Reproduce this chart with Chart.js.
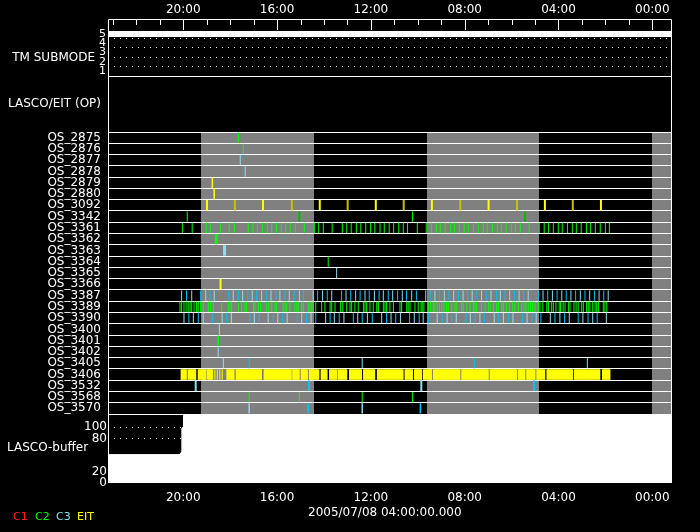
<!DOCTYPE html>
<html>
<head>
<meta charset="utf-8">
<script src="https://cdn.jsdelivr.net/npm/chart.js@4/dist/chart.umd.min.js"></script>
<style>
html,body{margin:0;padding:0;background:#000;width:700px;height:532px;overflow:hidden;}
canvas{position:absolute;left:0;}
</style>
</head>
<body>
<canvas id="tm" width="700" height="77" style="top:0px"></canvas>
<canvas id="os" width="700" height="339" style="top:76px"></canvas>
<canvas id="buf" width="700" height="119" style="top:413px"></canvas>
<script>
// ---------------- data (time in hours of day, axis runs backwards) ----------------
const hourTicks = [0, 4, 8, 12, 16, 20];
const submodeTicks = [1, 2, 3, 4, 5];
const submodeGrid = [1.5, 2.5, 3.5, 4.5];
const submodeTimes = [23.21, -0.84];
const submodeValues = [5, 5];

const rows = ['OS_2875','OS_2876','OS_2877','OS_2878','OS_2879','OS_2880','OS_3092','OS_3342',
  'OS_3361','OS_3362','OS_3363','OS_3364','OS_3365','OS_3366','OS_3387','OS_3389','OS_3390',
  'OS_3400','OS_3401','OS_3402','OS_3405','OS_3406','OS_3532','OS_3568','OS_3570'];

const grayBandStart = [19.25, 9.61, 0.0];
const grayBandEnd = [14.43, 4.84, -0.84];

const os2875_c2 = [17.65];
const os2876_c2 = [17.44];
const os2877_c3 = [17.57];
const os2878_c3 = [17.36];
const os2879_eit = [18.76];
const os2880_eit = [18.68];
const os3092_eit = [18.99, 16.60, 14.18, 11.79, 9.40, 6.98, 4.58, 2.19];
const os3092_eitDark = [17.80, 15.37, 12.99, 10.60, 8.19, 5.77, 3.39];
const os3342_c2 = [19.83, 10.23];
const os3342_c2Dark = [15.05, 5.42];
const os3361_c2 = [20.04, 19.62, 19.22, 19.02, 18.85, 18.42, 18.04, 17.82, 17.23, 17.03, 16.84, 16.63,
  16.42, 16.23, 16.03, 15.82, 15.63, 15.44, 15.22, 14.84, 14.41, 14.24, 14.03, 13.65, 13.22, 13.03,
  12.84, 12.62, 12.43, 12.22, 12.01, 11.83, 11.61, 11.43, 11.22, 11.03, 10.81, 10.62, 10.44, 10.02,
  9.64, 9.42, 9.21, 9.04, 8.83, 8.61, 8.44, 8.23, 8.02, 7.85, 7.63, 7.42, 7.21, 7.04, 6.82, 6.61,
  6.44, 6.23, 6.01, 5.84, 5.63, 5.25, 4.82, 4.61, 4.43, 4.22, 4.01, 3.84, 3.62, 3.41, 3.24, 3.03,
  2.81, 2.64, 2.43, 2.22, 2.00, 1.83];
const os3362_c2 = [18.59];
const os3363_c3 = [18.24];
const os3364_c2 = [13.82];
const os3365_c3 = [13.46];
const os3366_eit = [18.41];
const os3387_c3 = [20.07, 19.86, 19.64, 19.26, 19.04, 18.86, 18.68, 18.06, 17.87, 17.65, 17.47, 17.25,
  17.06, 16.87, 16.66, 16.44, 16.26, 16.05, 15.88, 15.66, 15.48, 15.27, 15.05, 14.88, 14.46, 14.27,
  14.06, 13.86, 13.67, 13.25, 13.06, 12.86, 12.65, 12.46, 12.25, 12.07, 11.85, 11.65, 11.47, 11.26,
  11.07, 10.86, 10.66, 10.48, 10.26, 10.06, 9.66, 9.47, 9.27, 9.07, 8.87, 8.67, 8.47, 8.27, 8.07,
  7.87, 7.68, 7.48, 7.28, 7.08, 6.88, 6.65, 6.48, 6.28, 6.08, 5.88, 5.68, 5.48, 5.29, 4.86, 4.66,
  4.46, 4.26, 4.06, 3.86, 3.67, 3.47, 3.27, 3.07, 2.87, 2.67, 2.47, 2.27, 2.07, 1.88];
const os3389_c2 = [20.14, 20.07, 19.97, 19.88, 19.79, 19.71, 19.64, 19.54, 19.43, 19.36, 19.26, 19.15,
  18.93, 18.83, 18.72, 18.36, 18.08, 18.01, 17.94, 17.65, 17.51, 17.37, 17.30, 17.01, 16.94, 16.80,
  16.70, 16.44, 16.35, 16.23, 16.09, 16.02, 15.74, 15.66, 15.59, 15.45, 15.24, 15.16, 15.10, 14.95,
  14.88, 14.67, 14.60, 14.52, 14.46, 14.35, 14.10, 13.96, 13.74, 13.67, 13.53, 13.29, 13.20, 13.03,
  12.89, 12.82, 12.68, 12.54, 12.32, 12.25, 12.18, 12.04, 11.90, 11.75, 11.68, 11.47, 11.40, 11.33,
  11.19, 11.04, 10.76, 10.69, 10.47, 10.41, 10.33, 10.12, 9.98, 9.86, 9.81, 9.74, 9.55, 9.45, 9.34,
  9.27, 9.17, 9.08, 8.98, 8.88, 8.77, 8.70, 8.55, 8.41, 8.34, 8.13, 8.06, 7.91, 7.77, 7.63, 7.56,
  7.49, 7.28, 7.13, 6.99, 6.92, 6.78, 6.64, 6.57, 6.42, 6.35, 6.21, 6.10, 5.95, 5.86, 5.71, 5.57,
  5.47, 5.39, 5.29, 5.19, 5.10, 5.00, 4.86, 4.79, 4.67, 4.50, 4.43, 4.29, 4.22, 4.11, 3.97, 3.91,
  3.80, 3.72, 3.58, 3.51, 3.34, 3.25, 3.16, 3.01, 2.94, 2.80, 2.73, 2.66, 2.54, 2.44, 2.37, 2.30,
  2.09, 2.02, 1.94];
const os3390_c3 = [19.97, 19.76, 19.57, 19.36, 19.15, 18.76, 18.34, 18.15, 17.95, 17.16, 16.97, 16.76,
  16.38, 16.16, 15.97, 15.76, 15.57, 15.14, 14.95, 14.74, 14.55, 14.35, 13.93, 13.74, 13.56, 13.35,
  13.15, 12.75, 12.56, 12.37, 12.15, 11.94, 11.54, 11.33, 11.14, 10.94, 10.74, 10.35, 10.15, 9.94,
  9.77, 9.55, 9.17, 8.96, 8.75, 8.55, 8.36, 7.94, 7.76, 7.55, 7.35, 7.16, 6.74, 6.55, 6.35, 6.14,
  5.94, 5.54, 5.34, 5.13, 4.95, 4.75, 4.35, 4.15, 3.94, 3.74, 3.54, 3.16, 2.96, 2.74, 2.54, 2.35, 1.96];
const os3400_c3 = [18.46];
const os3401_c2 = [18.51];
const os3402_c3 = [18.51];
const os3405_c3 = [18.29, 17.19, 12.37, 7.59, 2.77];
const os3406_eit = [18.75, 18.65, 18.55, 18.44, 18.34];
const os3406_runStart = [20.10, 19.81, 19.37, 18.98, 18.15, 17.75, 16.56, 15.34, 14.98, 14.63, 14.13,
  13.77, 13.39, 12.92, 12.32, 11.73, 10.55, 10.15, 9.77, 9.34, 8.13, 6.92, 5.71, 5.36, 4.93, 4.50, 3.33, 2.13];
const os3406_runEnd = [19.86, 19.46, 19.03, 18.79, 17.83, 16.66, 15.39, 15.05, 14.70, 14.21, 13.86,
  13.43, 13.02, 12.39, 11.83, 10.62, 10.22, 9.83, 9.41, 8.20, 6.99, 5.78, 5.43, 5.00, 4.58, 3.39, 2.23, 1.80];
const os3532_c3 = [19.47, 14.64, 9.85, 5.04];
const os3568_c2 = [17.19, 15.05, 12.37, 10.23];
const os3570_c3 = [17.19, 14.67, 12.37, 9.89];

const bufTicks = [0, 20, 80, 100];
const bufGrid = [80, 100];
const bufTimes = [23.21, 20.14, 20.07, 20.06, 20.0, 19.99, 19.93, -0.84];
const bufValues = [51, 51, 56, 98, 101, 121, 127, 127];

const legendNames = ['C1', 'C2', 'C3', 'EIT'];
const dateLabel = '2005/07/08 04:00:00.000';

// ---------------- styles ----------------
const X_MIN = -0.84, X_MAX = 23.21;
const COL = { c1:'#ff2020', c2:'#00ff00', c2d:'#00b800', c3:'#90dcef', c3b:'#00c4f4', eit:'#ffff00', eitd:'#c4c000' };
const FONT = "'DejaVu Sans', sans-serif";

Chart.defaults.font.family = FONT;
Chart.defaults.font.size = 12;
Chart.defaults.color = '#ffffff';
Chart.defaults.animation = false;
Chart.defaults.events = [];
Chart.defaults.plugins.legend.display = false;
Chart.defaults.plugins.tooltip.enabled = false;

const fmtHour = v => String(v).padStart(2, '0') + ':00';
const setTicks = arr => s => { s.ticks = arr.map(v => ({ value: v })); };
const fitW = w => s => { s.width = w; s.paddingTop = 0; s.paddingBottom = 0; s.paddingLeft = 0; s.paddingRight = 0; };
const fitH = h => s => { s.height = h; s.paddingTop = 0; s.paddingBottom = 0; s.paddingLeft = 0; s.paddingRight = 0; };

function timeAxis(position, h, pad) {
  return {
    type: 'linear', position, reverse: true, min: X_MIN, max: X_MAX,
    afterBuildTicks: setTicks(hourTicks),
    afterFit: fitH(h),
    ticks: { callback: fmtHour, padding: pad, maxRotation: 0, autoSkip: false },
    grid: { display: false, drawTicks: false },
    border: { display: false }
  };
}

function text(ctx, str, x, y, align, color, size) {
  ctx.save();
  ctx.fillStyle = color || '#fff';
  ctx.font = (size || 12) + 'px ' + FONT;
  ctx.textAlign = align;
  ctx.textBaseline = 'middle';
  ctx.fillText(str, x, y);
  ctx.restore();
}

// ---------------- TM SUBMODE panel ----------------
new Chart(document.getElementById('tm'), {
  type: 'line',
  data: { datasets: [{
    data: submodeTimes.map((t, i) => ({ x: t, y: submodeValues[i] })),
    borderColor: '#fff', borderWidth: 6, pointRadius: 0
  }]},
  options: {
    responsive: false,
    layout: { autoPadding: false, padding: { left: 0, right: 28, top: 0, bottom: 1 } },
    scales: {
      x: timeAxis('top', 20, 3),
      y: {
        type: 'linear', position: 'left', min: 0.45, max: 6.5,
        afterBuildTicks: setTicks(submodeTicks),
        afterFit: fitW(108),
        ticks: { padding: 2, autoSkip: false, font: { size: 11 } },
        grid: { display: false, drawTicks: false }, border: { display: false }
      },
      yDots: {
        type: 'linear', position: 'left', min: 0.45, max: 6.5,
        afterBuildTicks: setTicks(submodeGrid),
        afterFit: fitW(0),
        ticks: { display: false },
        grid: { color: '#fff', lineWidth: 1, drawTicks: false },
        border: { display: false, dash: [1, 5] }
      }
    }
  },
  plugins: [{
    id: 'tmFrame',
    afterDraw(chart) {
      const { ctx, chartArea: a, scales: { x } } = chart;
      ctx.save();
      ctx.strokeStyle = '#fff'; ctx.lineWidth = 1;
      ctx.beginPath();
      ctx.moveTo(a.left + 0.5, a.bottom + 0.5); ctx.lineTo(a.left + 0.5, a.top - 0.5);
      ctx.lineTo(a.right - 0.5, a.top - 0.5); ctx.lineTo(a.right - 0.5, a.bottom + 0.5);
      ctx.moveTo(a.left, a.bottom + 0.5); ctx.lineTo(a.right, a.bottom + 0.5);
      for (let h = Math.ceil(X_MIN); h <= Math.floor(X_MAX); h++) {
        const px = Math.round(x.getPixelForValue(h)) + 0.5;
        const len = hourTicks.includes(h) ? 10 : 5;
        ctx.moveTo(px, a.top); ctx.lineTo(px, a.top + len);
      }
      ctx.stroke();
      ctx.restore();
      text(ctx, 'TM SUBMODE', 95, 58, 'right');
    }
  }]
});

// ---------------- OS panel ----------------
const markSets = [
  ['OS_2875', os2875_c2, 'c2', 1], ['OS_2876', os2876_c2, 'c2', 1],
  ['OS_2877', os2877_c3, 'c3', 1], ['OS_2878', os2878_c3, 'c3', 1],
  ['OS_2879', os2879_eit, 'eit', 1.5], ['OS_2880', os2880_eit, 'eit', 1.5],
  ['OS_3092', os3092_eit, 'eit', 2], ['OS_3092', os3092_eitDark, 'eitd', 2],
  ['OS_3342', os3342_c2, 'c2', 1], ['OS_3342', os3342_c2Dark, 'c2d', 2],
  ['OS_3361', os3361_c2, 'c2', 1],
  ['OS_3362', os3362_c2, 'c2', 3], ['OS_3363', os3363_c3, 'c3', 3],
  ['OS_3364', os3364_c2, 'c2', 1], ['OS_3365', os3365_c3, 'c3', 1],
  ['OS_3366', os3366_eit, 'eit', 2],
  ['OS_3387', os3387_c3, 'c3', 1], ['OS_3389', os3389_c2, 'c2', 1], ['OS_3390', os3390_c3, 'c3', 1],
  ['OS_3400', os3400_c3, 'c3', 1], ['OS_3401', os3401_c2, 'c2', 1.5], ['OS_3402', os3402_c3, 'c3', 1],
  ['OS_3405', os3405_c3, 'c3', 1], ['OS_3406', os3406_eit, 'eit', 1],
  ['OS_3532', os3532_c3, 'c3', 2], ['OS_3568', os3568_c2, 'c2', 1], ['OS_3570', os3570_c3, 'c3', 1.5]
];

const osDatasets = [{
  type: 'bar', indexAxis: 'y',
  data: os3406_runStart.map((s, i) => ({ y: 'OS_3406', x: [s, os3406_runEnd[i]] })),
  backgroundColor: COL.eit, borderWidth: 0, barThickness: 10, grouped: false
}].concat(markSets.map(([row, times, col, w]) => ({
  type: 'scatter',
  data: times.map(t => ({ x: t, y: row })),
  pointStyle: 'line', pointRotation: 90, pointRadius: 5.2,
  pointBorderWidth: w,
  pointBorderColor: col === 'c3' ? (ctx => (ctx.dataIndex % 2 ? COL.c3b : COL.c3)) : COL[col],
  pointBackgroundColor: 'rgba(0,0,0,0)'
})));

new Chart(document.getElementById('os'), {
  type: 'scatter',
  data: { datasets: osDatasets },
  options: {
    responsive: false,
    layout: { autoPadding: false, padding: { left: 0, right: 28, top: 56, bottom: 1 } },
    scales: {
      x: { type: 'linear', reverse: true, min: X_MIN, max: X_MAX, display: false, afterFit: fitH(0) },
      y: {
        type: 'category', labels: rows, offset: true,
        afterFit: fitW(108),
        ticks: { padding: 7, autoSkip: false },
        grid: { color: '#fff', lineWidth: 1, offset: true, drawTicks: false },
        border: { display: false }
      }
    }
  },
  plugins: [{
    id: 'osBands',
    beforeDraw(chart) {
      const { ctx, chartArea: a, scales: { x } } = chart;
      ctx.save();
      ctx.fillStyle = '#808080';
      grayBandStart.forEach((s, i) => {
        const p1 = Math.max(a.left, Math.min(x.getPixelForValue(s), x.getPixelForValue(grayBandEnd[i])));
        const p2 = Math.min(a.right, Math.max(x.getPixelForValue(s), x.getPixelForValue(grayBandEnd[i])));
        ctx.fillRect(Math.round(p1), a.top, Math.round(p2) - Math.round(p1), a.bottom - a.top);
      });
      ctx.restore();
    },
    afterDraw(chart) {
      const { ctx, chartArea: a } = chart;
      ctx.save();
      ctx.strokeStyle = '#fff'; ctx.lineWidth = 1;
      ctx.beginPath();
      ctx.moveTo(a.left + 0.5, 0); ctx.lineTo(a.left + 0.5, a.bottom + 1);
      ctx.moveTo(a.right - 0.5, 0); ctx.lineTo(a.right - 0.5, a.bottom + 1);
      ctx.stroke();
      ctx.restore();
      text(ctx, 'LASCO/EIT (OP)', 101, 27.5, 'right');
    }
  }]
});

// ---------------- LASCO buffer panel ----------------
const legendColors = [COL.c1, COL.c2, COL.c3, COL.eit];
new Chart(document.getElementById('buf'), {
  type: 'line',
  data: { datasets: [{
    data: bufTimes.map((t, i) => ({ x: t, y: bufValues[i] })),
    borderColor: '#fff', backgroundColor: '#fff', borderWidth: 1, pointRadius: 0, fill: 'origin'
  }]},
  options: {
    responsive: false,
    layout: { autoPadding: false, padding: { left: 0, right: 28, top: 1, bottom: 0 } },
    scales: {
      x: timeAxis('bottom', 49, 8),
      y: {
        type: 'linear', position: 'left', min: 0, max: 124,
        afterBuildTicks: setTicks(bufTicks),
        afterFit: fitW(108),
        ticks: { padding: 1, autoSkip: false },
        grid: { display: false, drawTicks: false }, border: { display: false }
      },
      yDots: {
        type: 'linear', position: 'left', min: 0, max: 124,
        afterBuildTicks: setTicks(bufGrid),
        afterFit: fitW(0),
        ticks: { display: false },
        grid: { color: '#fff', lineWidth: 1, drawTicks: false },
        border: { display: false, dash: [1, 5] }
      }
    }
  },
  plugins: [{
    id: 'bufFrame',
    afterDraw(chart) {
      const { ctx, chartArea: a } = chart;
      ctx.save();
      ctx.strokeStyle = '#fff'; ctx.lineWidth = 1;
      ctx.beginPath();
      ctx.moveTo(a.left + 0.5, 0); ctx.lineTo(a.left + 0.5, a.bottom);
      ctx.stroke();
      ctx.restore();
      text(ctx, 'LASCO-buffer', 7, 35, 'left');
      text(ctx, dateLabel, 308, 100, 'left');
      const lx = [13, 35, 56, 77];
      legendNames.forEach((n, i) => text(ctx, n, lx[i], 104, 'left', legendColors[i], 11));
    }
  }]
});
</script>
</body>
</html>
